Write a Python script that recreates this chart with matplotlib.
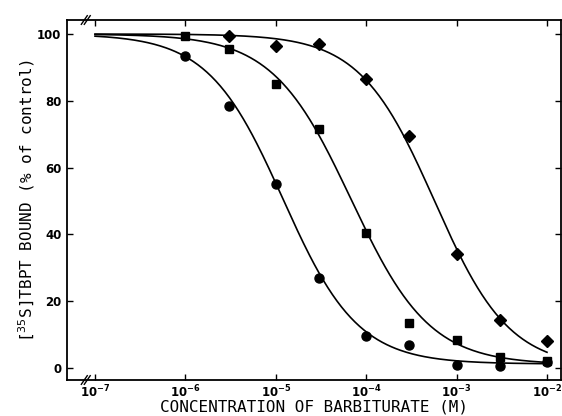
import numpy as np
import matplotlib
matplotlib.use("Agg")
import matplotlib.pyplot as plt
from matplotlib.ticker import FixedLocator, FuncFormatter

# Data
conc = [1e-6, 3e-6, 1e-5, 3e-5, 1e-4, 3e-4, 1e-3, 3e-3, 1e-2]
circles = [93.5, 78.5, 55, 27, 9.5, 7, 0.8, 0.5, 1.8]
squares = [99.5, 95.5, 85, 71.5, 40.5, 13.5, 8.5, 3.2, 2.0]
diamond_conc = [3e-6, 1e-5, 3e-5, 1e-4, 3e-4, 1e-3, 3e-3, 1e-2]
diamonds = [99.5, 96.5, 97, 86.5, 69.5, 34, 14.5, 8]

# fitted curve parameters (IC50, Hill slope, bottom plateau)
fit_ic50 = [1.2e-5, 6.8e-5, 5.7e-4]
fit_hill = [1.05, 1.0, 1.05]
fit_bottom = [1.2, 1.0, 0.0]

xticks = [1e-7, 1e-6, 1e-5, 1e-4, 1e-3, 1e-2]
yticks = [0, 20, 40, 60, 80, 100]

fig = plt.figure(figsize=(5.62, 4.16), dpi=100)
ax = fig.add_axes([67/562, 36/416, 494/562, 360/416])

xc = np.logspace(-7, -2, 300)
for ic, h, b in zip(fit_ic50, fit_hill, fit_bottom):
    yc = b + (100.0 - b) / (1 + (xc / ic) ** h)
    ax.plot(xc, yc, color='black', lw=1.2)

ax.plot(conc, circles, 'o', color='black', ms=6.5)
ax.plot(conc, squares, 's', color='black', ms=5.5)
ax.plot(diamond_conc, diamonds, 'D', color='black', ms=6)

ax.set_xscale('log')
ax.set_xlim(10**-7.31, 10**-1.845)
ax.set_ylim(-3.6, 104.2)
ax.xaxis.set_major_locator(FixedLocator(xticks))
ax.xaxis.set_minor_locator(FixedLocator([]))
ax.xaxis.set_major_formatter(FuncFormatter(lambda v, p: r'$\mathbf{10^{%d}}$' % int(round(np.log10(v)))))
ax.set_yticks(yticks)
ax.tick_params(direction='in', length=4, width=1, top=True, right=True,
               labelsize=8.5, pad=4)
ax.tick_params(axis='x', pad=3)
for lab in ax.get_yticklabels():
    lab.set_fontweight('bold')
for s in ax.spines.values():
    s.set_linewidth(1.3)

# axis break marks
for yb in (0, 1):
    for dx in (-0.006, 0.0):
        ax.plot([0.035 + dx, 0.047 + dx], [yb - 0.012, yb + 0.012], transform=ax.transAxes,
                color='black', lw=1, clip_on=False)

ax.set_xlabel('CONCENTRATION OF BARBITURATE (M)', family='DejaVu Sans Mono', fontsize=11.5, labelpad=-1)
ax.set_ylabel(r'[$^{35}$S]TBPT BOUND (% of control)', family='DejaVu Sans Mono', fontsize=11.5, labelpad=0)

fig.savefig('out.png', dpi=100)
